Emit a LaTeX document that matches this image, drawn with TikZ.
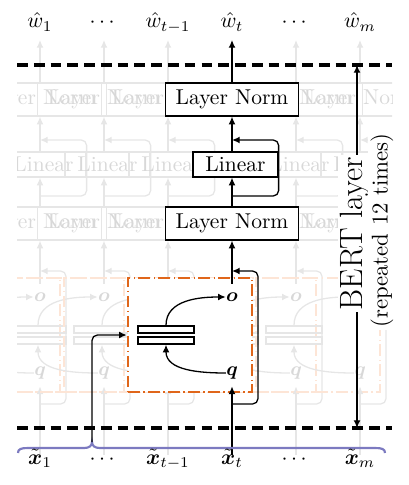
\documentclass[tikz,border=0pt]{standalone}
\usepackage{amsmath}
\usetikzlibrary{arrows.meta}

\definecolor{attorange}{HTML}{E0661A}
\definecolor{bracecol}{HTML}{7C7AC0}
\definecolor{fadegray}{HTML}{E6E6E6}
\definecolor{fadetext}{HTML}{D8D8D8}
\definecolor{fadeorange}{HTML}{FDE5D6}

\tikzset{
  normbox/.style={draw, fill=white, line width=0.6pt, minimum width=61.8pt, minimum height=15.3pt, inner sep=0pt},
  linbox/.style={draw, fill=white, line width=0.6pt, minimum width=39.5pt, minimum height=11.6pt, inner sep=0pt},
  attbox/.style={draw=attorange, fill=white, line width=1.1pt, dash pattern=on 5.4pt off 1.6pt on 0.7pt off 1.6pt,
    minimum width=57.7pt, minimum height=53pt, inner sep=0pt},
  halfbox/.style={draw, fill=white, line width=0.6pt, minimum width=26pt, minimum height=3.3pt, inner sep=0pt},
  vecnode/.style={inner sep=0pt, minimum height=12pt, font=\small},
  conn/.style={->, line width=0.6pt},
  sepline/.style={line width=1.5pt, dash pattern=on 5pt off 2.8pt},
  spanlabel/.style={fill=white, rotate=90, inner sep=1pt},
  faded/.style={
    normbox/.append style={draw=fadegray, text=fadetext, fill=none},
    linbox/.append style={draw=fadegray, text=fadetext, fill=none},
    attbox/.append style={draw=fadeorange, fill=none},
    halfbox/.append style={draw=fadegray, fill=none},
    vecnode/.append style={text=fadetext},
    conn/.append style={color=fadegray}}
}

% one BERT layer at column x=#1, node names end in #2
\newcommand{\bertlayer}[2]{%
  \begin{scope}[shift={(#1,0)}]
    \node[normbox] (lnb#2) at (0,-223.5) {Layer Norm};
    \node[linbox] (lin#2) at (3.5,-164.5) {Linear};
    \node[normbox] (lnt#2) at (0,-99.5) {Layer Norm};
    \node[attbox] (att#2) at (-42,-335) {};
    \node[halfbox] (kt#2) at (-66,-329.5) {};
    \node[halfbox] (kb#2) at (-66,-340.5) {};
    \node[vecnode] (o#2) at (0,-297) {$\boldsymbol{o}$};
    \node[vecnode] (q#2) at (0,-373) {$\boldsymbol{q}$};
    \coordinate (in#2) at (0,-455);
    \coordinate (out#2) at (0,-40);
    \coordinate (ra#2) at (0,-404);
    \coordinate (rb#2) at (0,-271);
    \coordinate (rc#2) at (0,-196);
    \coordinate (rd#2) at (0,-140);
    \draw[conn] (in#2) -- (q#2);
    \draw[conn] (q#2.west) to[out=180,in=-90] (kb#2.south);
    \draw[conn] (kt#2.north) to[out=90,in=180] (o#2.west);
    \draw[conn] (o#2) -- (lnb#2);
    \draw[conn] (lnb#2.north) -- (lnb#2.north |- lin#2.south);
    \draw[conn] (lin#2.north -| lnt#2.south) -- (lnt#2.south);
    \draw[conn] (lnt#2) -- (out#2);
    \draw[conn, rounded corners=2.5pt] (ra#2) -- ++(26,0) |- (rb#2);
    \draw[conn, rounded corners=2.5pt] (rc#2) -| (lin#2.east) |- (rd#2);
  \end{scope}}

\begin{document}
\begin{tikzpicture}[x=0.465pt,y=0.465pt,>={Latex[length=3.6pt,width=3.2pt]}]
  \useasboundingbox (0,0) rectangle (408,-485);

  % the same layer at the other positions, faded
  \begin{scope}[faded]
    \clip (17,-30) rectangle (392,-462);
    \foreach \cx/\s in {40/a,104/b,168/c,296/d,360/e} {\bertlayer{\cx}{\s}}
  \end{scope}

  \draw[sepline] (17,-65) -- (392,-65);
  \draw[sepline] (17,-428) -- (392,-428);

  % position t
  \bertlayer{232}{m}

  % layer span
  \coordinate (bertt) at (357,-65);
  \coordinate (bertb) at (357,-428);
  \draw[<->, line width=0.6pt] (bertt) -- (bertb);
  \node[spanlabel, font=\fontsize{15}{17}\selectfont] (bert) at (355,-233.5) {BERT layer};
  \node[spanlabel, font=\fontsize{10.6}{12}\selectfont] (bertrep) at (382,-230.5) {(repeated 12 times)};

  % inputs
  \coordinate (bracetip) at (92,-442);
  \draw[bracecol, line width=1pt] (18,-453) .. controls (18,-449) and (21,-448) .. (28,-448)
    -- (84,-448) .. controls (89,-448) and (92,-446) .. (bracetip)
    .. controls (92,-446) and (95,-448) .. (100,-448)
    -- (375,-448) .. controls (382,-448) and (385,-449) .. (385,-453);
  \draw[conn, rounded corners=2.5pt] (bracetip) |- (attm.west);

  \node[anchor=base] (w1) at (40,-28) {$\hat{w}_1$};
  \node[anchor=base] (wd1) at (104,-28) {$\cdots$};
  \node[anchor=base] (wtm) at (168,-28) {$\hat{w}_{t-1}$};
  \node[anchor=base] (wt) at (232,-28) {$\hat{w}_t$};
  \node[anchor=base] (wd2) at (296,-28) {$\cdots$};
  \node[anchor=base] (wm) at (360,-28) {$\hat{w}_m$};

  \node[anchor=base] (x1) at (40,-464) {$\tilde{\boldsymbol{x}}_1$};
  \node[anchor=base] (xd1) at (104,-464) {$\cdots$};
  \node[anchor=base] (xtm) at (168,-464) {$\tilde{\boldsymbol{x}}_{t-1}$};
  \node[anchor=base] (xt) at (232,-464) {$\tilde{\boldsymbol{x}}_t$};
  \node[anchor=base] (xd2) at (296,-464) {$\cdots$};
  \node[anchor=base] (xm) at (360,-464) {$\tilde{\boldsymbol{x}}_m$};
\end{tikzpicture}
\end{document}
